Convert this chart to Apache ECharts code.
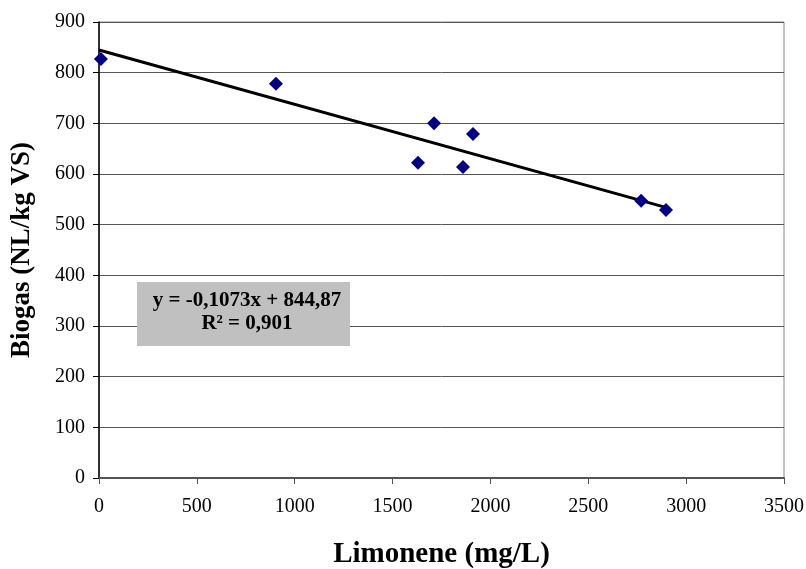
<!DOCTYPE html>
<html><head><meta charset="utf-8">
<script src="https://cdn.jsdelivr.net/npm/echarts@6/dist/echarts.min.js"></script>
<style>html,body{margin:0;padding:0;background:#fff}#c{width:806px;height:569px}</style>
</head><body><div id="c"></div>
<script>
const limonene = [10, 904, 1630, 1712, 1860, 1911, 2770, 2897];
const biogas = [827, 778, 622, 700, 614, 679, 547, 529];
const trendX = [0, 2900];
const trendY = [844.87, 533.70];
const xTicks = [0, 500, 1000, 1500, 2000, 2500, 3000, 3500];
const yTicks = [0, 100, 200, 300, 400, 500, 600, 700, 800, 900];
const eqText = ['y = -0,1073x + 844,87', 'R² = 0,901'];

const font = '"Liberation Serif","Times New Roman",serif';
const chart = echarts.init(document.getElementById('c'));
chart.setOption({
  animation: false,
  backgroundColor: '#fff',
  grid: { left: 99, right: 22, top: 22, bottom: 91, show: true, borderColor: '#888', borderWidth: 1,
          containLabel: false, outerBoundsMode: 'none' },
  xAxis: {
    type: 'value', min: xTicks[0], max: xTicks[xTicks.length-1], interval: 500,
    name: 'Limonene (mg/L)', nameLocation: 'middle', nameGap: 62,
    nameTextStyle: { fontFamily: font, fontSize: 29, fontWeight: 'bold', color: '#000' },
    axisLine: { lineStyle: { color: '#555', width: 2 } },
    axisTick: { show: true, length: 6, lineStyle: { color: '#555' } },
    axisLabel: { fontFamily: font, fontSize: 20, color: '#000', margin: 19, formatter: v => String(v) },
    splitLine: { show: false }
  },
  yAxis: {
    type: 'value', min: yTicks[0], max: yTicks[yTicks.length-1], interval: 100,
    name: 'Biogas (NL/kg VS)', nameLocation: 'middle', nameGap: 63,
    nameTextStyle: { fontFamily: font, fontSize: 27, fontWeight: 'bold', color: '#000' },
    axisLine: { show: true, lineStyle: { color: '#000', width: 1.5 } },
    axisTick: { show: true, length: 6, lineStyle: { color: '#000' } },
    axisLabel: { fontFamily: font, fontSize: 20, color: '#000', margin: 14, formatter: v => String(v) },
    splitLine: { show: true, lineStyle: { color: '#555', width: 1 } }
  },
  series: [
    {
      type: 'line', data: trendX.map((x, i) => [x, trendY[i]]),
      symbol: 'none', lineStyle: { color: '#000', width: 3 }, z: 2
    },
    {
      type: 'scatter', data: limonene.map((x, i) => [x, biogas[i]]),
      symbol: 'diamond', symbolSize: 14, itemStyle: { color: '#000080', opacity: 1 }, z: 3
    }
  ],
  graphic: [
    { type: 'rect', shape: { x: 137, y: 282, width: 213, height: 64 }, style: { fill: '#c0c0c0' }, z: 10 },
    { type: 'text', style: { x: 247, y: 289, text: eqText.join('\n'), font: 'bold 21px ' + font, fill: '#000', textAlign: 'center', lineHeight: 23 }, z: 11 }
  ]
});
</script></body></html>
